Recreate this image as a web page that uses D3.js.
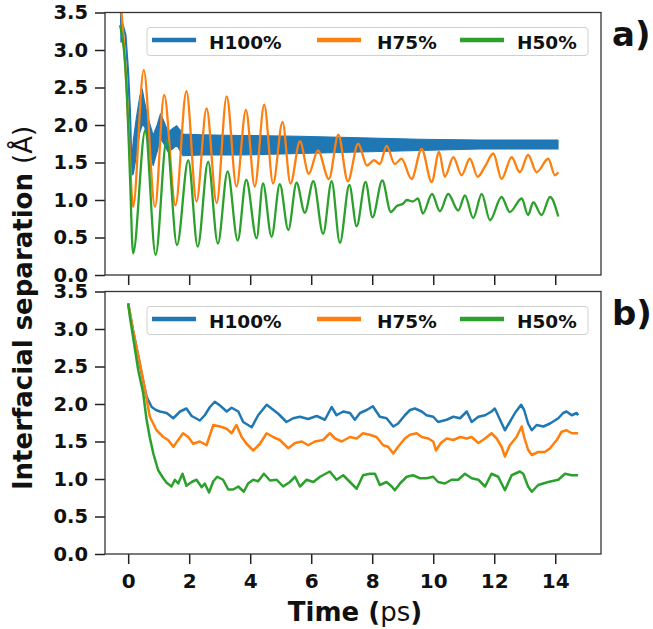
<!DOCTYPE html>
<html><head><meta charset="utf-8">
<script src="https://cdn.jsdelivr.net/npm/d3@7"></script>
<style>body{margin:0;background:#fff}svg{display:block}</style>
</head><body>
<svg id="chart" width="653" height="629"></svg>
<script>
// ---------------- data ----------------
const seriesNames = ["H100%", "H75%", "H50%"];
const seriesColors = ["#1f77b4", "#ff7f0e", "#2ca02c"];
const yTickValues = [0.0, 0.5, 1.0, 1.5, 2.0, 2.5, 3.0, 3.5];
const xTickValues = [0, 2, 4, 6, 8, 10, 12, 14];
const panelLabels = ["a)", "b)"];

// Panel a — H100% : initial drop (line) + fast-vibration envelope (band)
const tA_blueLine = [-0.24,-0.22,-0.19,-0.09,0.00,0.06,0.11];
const vA_blueLine = [3.6,3.1,3.35,3.2,2.69,2.16,1.40];
const tA_blueBand = [0.11,0.17,0.27,0.38,0.46,0.54,0.66,0.82,0.95,1.06,1.17,1.31,1.45,1.59,1.80,2.40,3.66,5.63,7.60,9.56,11.53,14.09];
const loA_blueBand = [1.33,1.35,1.60,1.90,2.00,1.98,1.73,1.46,1.65,1.82,1.75,1.64,1.68,1.73,1.59,1.60,1.60,1.62,1.64,1.66,1.68,1.68];
const hiA_blueBand = [1.50,1.80,2.10,2.38,2.48,2.30,2.08,1.86,2.00,2.15,2.05,1.90,1.95,1.99,1.88,1.87,1.86,1.85,1.83,1.81,1.80,1.80];

// Panel a — H75%
const tA_orange = [-0.26,-0.22,-0.11,0.02,0.16,0.51,0.88,1.18,1.55,1.91,2.24,2.57,2.90,3.23,3.55,3.86,4.15,4.46,4.75,5.06,5.32,5.63,5.92,6.22,6.58,6.89,7.20,7.54,7.83,8.06,8.25,8.47,8.74,8.96,9.29,9.62,9.95,10.19,10.38,10.66,10.93,11.20,11.46,11.70,11.97,12.24,12.57,12.84,13.11,13.39,13.77,13.99,14.10];
const vA_orange = [3.62,3.49,2.9,1.9,0.91,2.73,0.91,2.40,0.93,2.45,0.98,2.22,0.96,2.38,1.18,2.20,1.18,2.27,1.22,2.04,1.22,1.78,1.35,1.66,1.28,1.87,1.25,1.75,1.46,1.53,1.48,1.72,1.48,1.55,1.28,1.68,1.24,1.64,1.31,1.57,1.33,1.55,1.31,1.45,1.62,1.28,1.57,1.37,1.60,1.37,1.55,1.33,1.37];

// Panel a — H50%
const tA_green = [-0.27,-0.24,-0.14,-0.04,0.06,0.16,0.56,0.90,1.26,1.60,1.97,2.28,2.62,2.94,3.26,3.59,3.87,4.21,4.42,4.70,4.97,5.25,5.52,5.79,6.07,6.39,6.67,6.94,7.25,7.49,7.78,8.01,8.33,8.61,8.81,9.01,9.14,9.33,9.50,9.66,9.96,10.22,10.49,10.82,11.04,11.31,11.59,11.86,12.24,12.51,12.90,13.11,13.28,13.55,13.83,14.10];
const vA_green = [3.33,3.28,3.0,2.4,1.3,0.29,1.93,0.27,1.80,0.40,1.53,0.38,1.51,0.42,1.38,0.46,1.27,0.49,1.22,0.51,1.21,0.60,1.23,0.83,1.25,0.55,1.25,0.43,1.20,0.65,1.24,0.77,1.26,0.84,0.92,0.95,1.00,0.98,1.02,0.82,1.08,0.85,1.08,0.86,1.06,0.76,1.08,0.73,1.04,0.84,1.02,0.80,0.97,0.80,1.04,0.78];

// Panel b — H100%
const tB_blue = [0.00,0.15,0.29,0.44,0.60,0.77,0.91,1.04,1.26,1.48,1.70,1.91,2.08,2.35,2.51,2.68,2.84,3.01,3.23,3.39,3.61,3.77,4.05,4.26,4.54,4.70,4.92,5.19,5.41,5.63,5.90,6.18,6.45,6.67,6.83,7.05,7.27,7.43,7.60,7.82,8.02,8.25,8.47,8.69,8.85,9.07,9.24,9.40,9.62,9.78,10.00,10.16,10.44,10.66,10.88,11.10,11.26,11.48,11.70,11.91,12.02,12.19,12.35,12.51,12.68,12.88,12.98,13.11,13.23,13.39,13.61,13.83,14.10,14.26,14.37,14.54,14.70,14.75];
const vB_blue = [3.34,3.0,2.72,2.41,2.10,1.96,1.92,1.90,1.88,1.81,1.90,1.94,1.84,1.78,1.85,1.96,2.03,1.98,1.90,1.95,1.90,1.76,1.69,1.85,1.99,1.94,1.87,1.76,1.81,1.83,1.80,1.84,1.79,1.96,1.85,1.90,1.88,1.79,1.88,1.92,1.97,1.83,1.81,1.70,1.74,1.85,1.92,1.94,1.90,1.85,1.83,1.76,1.79,1.83,1.81,1.90,1.76,1.83,1.85,1.90,1.94,1.79,1.65,1.76,1.88,1.99,1.92,1.74,1.65,1.72,1.70,1.74,1.81,1.88,1.90,1.85,1.88,1.85];

// Panel b — H75%
const tB_orange = [0.00,0.15,0.29,0.38,0.55,0.71,0.93,1.15,1.31,1.48,1.64,1.80,1.97,2.13,2.35,2.57,2.79,3.01,3.23,3.39,3.55,3.72,3.88,4.10,4.32,4.54,4.75,4.97,5.25,5.47,5.69,5.90,6.12,6.39,6.61,6.78,7.00,7.27,7.49,7.70,7.92,8.14,8.36,8.52,8.69,8.85,9.07,9.24,9.46,9.62,9.84,10.00,10.09,10.25,10.44,10.66,10.88,11.10,11.26,11.48,11.70,11.91,12.08,12.24,12.35,12.51,12.73,12.90,12.98,13.11,13.23,13.44,13.66,13.83,14.05,14.21,14.37,14.54,14.75];
const vB_orange = [3.34,3.0,2.72,2.55,2.19,1.83,1.65,1.56,1.52,1.43,1.52,1.61,1.56,1.47,1.50,1.45,1.72,1.70,1.67,1.61,1.72,1.56,1.47,1.38,1.47,1.61,1.56,1.52,1.41,1.48,1.50,1.45,1.50,1.52,1.61,1.54,1.50,1.56,1.54,1.61,1.59,1.56,1.45,1.43,1.34,1.43,1.54,1.59,1.61,1.56,1.54,1.50,1.38,1.48,1.54,1.52,1.56,1.54,1.56,1.48,1.54,1.61,1.54,1.43,1.30,1.45,1.56,1.70,1.56,1.39,1.32,1.36,1.36,1.41,1.52,1.63,1.65,1.61,1.61];

// Panel b — H50%
const tB_green = [0.00,0.06,0.15,0.33,0.49,0.60,0.71,0.83,0.98,1.15,1.26,1.42,1.53,1.64,1.78,1.91,2.08,2.24,2.41,2.51,2.65,2.79,2.92,3.11,3.28,3.44,3.61,3.79,3.93,4.10,4.26,4.45,4.65,4.87,5.08,5.30,5.47,5.63,5.85,6.07,6.29,6.61,6.83,7.05,7.27,7.49,7.70,7.92,8.09,8.25,8.47,8.64,8.74,8.91,9.13,9.34,9.56,9.78,10.00,10.16,10.38,10.60,10.82,11.04,11.26,11.48,11.70,11.91,12.13,12.35,12.57,12.84,12.95,13.11,13.23,13.44,13.77,14.10,14.32,14.54,14.75];
const vB_green = [3.34,3.15,2.92,2.45,2.15,1.80,1.55,1.33,1.12,1.01,0.95,0.90,0.99,0.94,1.07,0.91,0.96,0.99,0.89,0.94,0.82,0.97,1.03,0.99,0.86,0.86,0.90,0.83,0.94,0.99,0.97,1.07,0.98,0.99,0.90,0.96,1.03,0.90,0.99,0.96,1.03,1.10,0.99,1.05,0.96,0.87,1.05,1.07,1.07,0.92,0.96,0.90,0.85,0.94,1.03,1.05,1.01,1.01,1.03,0.96,0.94,0.99,0.99,1.07,1.01,0.99,0.90,1.07,1.03,0.85,1.05,1.10,1.07,0.90,0.83,0.92,0.96,0.99,1.07,1.05,1.05];

// ---------------- drawing ----------------
const FONT = "'DejaVu Sans', sans-serif";
const svg = d3.select("#chart");
const plotLeft = 105, plotRight = 601, plotH = 262.5;
const x = d3.scaleLinear().domain([-0.76, 15.5]).range([plotLeft, plotRight]);
const panels = [
  { bottom: 275, label: panelLabels[0], showX: false },
  { bottom: 554, label: panelLabels[1], showX: true }
];
const zip = (t, v) => t.map((d, i) => [d, v[i]]);

panels.forEach((p, pi) => {
  const y = d3.scaleLinear().domain([0, 3.5]).range([p.bottom, p.bottom - plotH]);
  const top = p.bottom - plotH;
  const g = svg.append("g");
  const clipId = "clip" + pi;
  svg.append("clipPath").attr("id", clipId).append("rect")
    .attr("x", plotLeft).attr("y", top).attr("width", plotRight - plotLeft).attr("height", plotH);
  const data = g.append("g").attr("clip-path", `url(#${clipId})`);

  const line = d3.line().x(d => x(d[0])).y(d => y(d[1]));
  if (pi === 0) {
    const smooth = d3.line().x(d => x(d[0])).y(d => y(d[1])).curve(d3.curveMonotoneX);
    const band = d3.area().x(d => x(d.t)).y0(d => y(d.lo)).y1(d => y(d.hi));
    const bandData = tA_blueBand.map((t, i) => ({ t, lo: loA_blueBand[i], hi: hiA_blueBand[i] }));
    data.append("path").attr("d", band(bandData)).attr("fill", seriesColors[0])
      .attr("stroke", seriesColors[0]).attr("stroke-width", 1.2).attr("stroke-linejoin", "round");
    data.append("path").attr("d", line(zip(tA_blueLine, vA_blueLine))).attr("fill", "none")
      .attr("stroke", seriesColors[0]).attr("stroke-width", 2.2);
    data.append("path").attr("d", smooth(zip(tA_orange, vA_orange))).attr("fill", "none")
      .attr("stroke", seriesColors[1]).attr("stroke-width", 2.3).attr("stroke-linejoin", "round");
    data.append("path").attr("d", smooth(zip(tA_green, vA_green))).attr("fill", "none")
      .attr("stroke", seriesColors[2]).attr("stroke-width", 2.3).attr("stroke-linejoin", "round");
  } else {
    [[tB_blue, vB_blue], [tB_orange, vB_orange], [tB_green, vB_green]].forEach((s, si) => {
      data.append("path").attr("d", line(zip(s[0], s[1]))).attr("fill", "none")
        .attr("stroke", seriesColors[si]).attr("stroke-width", 2.5).attr("stroke-linejoin", "round");
    });
  }

  // y axis
  const ya = g.append("g").attr("transform", `translate(${plotLeft},0)`)
    .call(d3.axisLeft(y).tickValues(yTickValues).tickFormat(d3.format(".1f")).tickSize(10).tickPadding(7));
  ya.select(".domain").remove();
  ya.selectAll("line").attr("stroke", "#222").attr("stroke-width", 1.5);
  ya.selectAll("text").attr("font-family", FONT).attr("font-weight", "bold").attr("font-size", 19.5).attr("fill", "#111");

  // x axis
  const xa = g.append("g").attr("transform", `translate(0,${p.bottom})`)
    .call(d3.axisBottom(x).tickValues(xTickValues).tickSize(10).tickPadding(10)
      .tickFormat(p.showX ? d3.format("d") : () => ""));
  xa.select(".domain").remove();
  xa.selectAll("line").attr("stroke", "#222").attr("stroke-width", 1.5);
  xa.selectAll("text").attr("font-family", FONT).attr("font-weight", "bold").attr("font-size", 20).attr("fill", "#111");

  // frame
  g.append("rect").attr("x", plotLeft).attr("y", top).attr("width", plotRight - plotLeft).attr("height", plotH)
    .attr("fill", "none").attr("stroke", "#333").attr("stroke-width", 1.3);

  // legend
  const lg = g.append("g");
  lg.append("rect").attr("x", 147).attr("y", top + 15).attr("width", 441).attr("height", 28).attr("rx", 3)
    .attr("fill", "rgba(255,255,255,0.8)").attr("stroke", "#d0d0d0").attr("stroke-width", 1);
  const lineX = [152, 317, 460], textX = [209, 377, 517];
  seriesNames.forEach((n, i) => {
    lg.append("line").attr("x1", lineX[i]).attr("x2", lineX[i] + 44)
      .attr("y1", top + 27.5).attr("y2", top + 27.5)
      .attr("stroke", seriesColors[i]).attr("stroke-width", 4.5);
    lg.append("text").attr("x", textX[i]).attr("y", top + 36).text(n)
      .attr("font-family", FONT).attr("font-weight", "bold").attr("font-size", 18.5).attr("fill", "#111");
  });

  // panel label
  svg.append("text").attr("x", 612).attr("y", top + 33).text(p.label)
    .attr("font-family", FONT).attr("font-weight", "bold").attr("font-size", 34).attr("fill", "#111");
});

// axis titles
const xt = svg.append("text").attr("x", 355).attr("y", 621).attr("text-anchor", "middle")
  .attr("font-family", FONT).attr("font-size", 26).attr("fill", "#111");
xt.append("tspan").attr("font-weight", "bold").text("Time (");
xt.append("tspan").attr("font-weight", "normal").text("ps");
xt.append("tspan").attr("font-weight", "bold").text(")");

const yt = svg.append("text").attr("transform", "translate(32,308) rotate(-90)").attr("text-anchor", "middle")
  .attr("font-family", FONT).attr("font-size", 26).attr("fill", "#111");
yt.append("tspan").attr("font-weight", "bold").text("Interfacial separation ");
yt.append("tspan").attr("font-weight", "normal").text("(Å)");
</script>
</body></html>
